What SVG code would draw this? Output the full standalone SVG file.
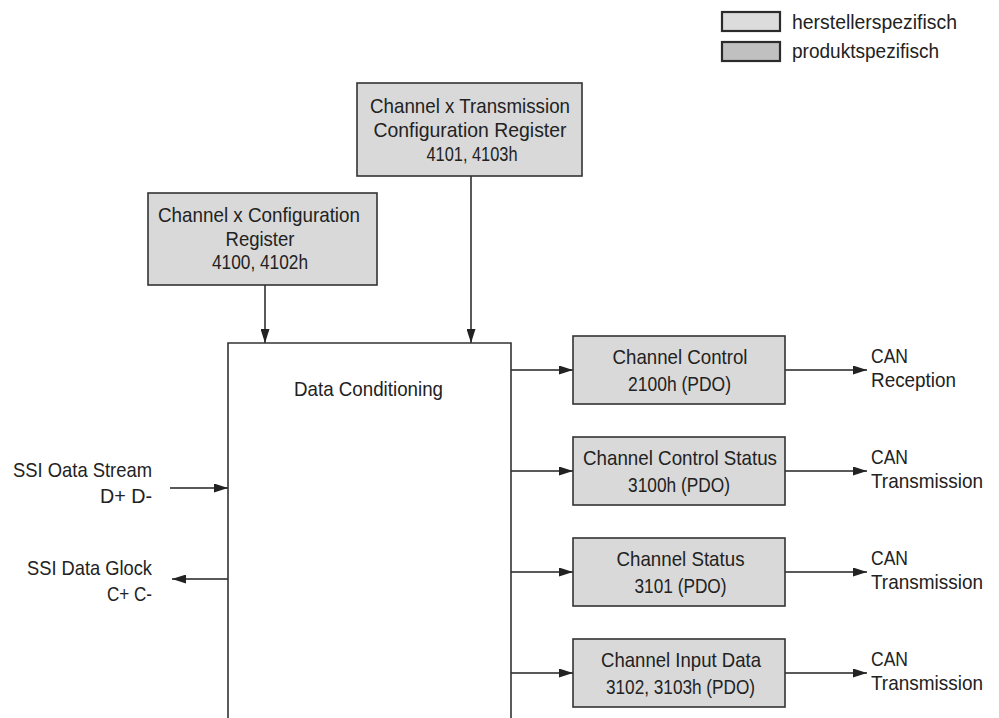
<svg xmlns="http://www.w3.org/2000/svg" width="999" height="718" viewBox="0 0 999 718">
<defs>
<marker id="ah" viewBox="0 0 14 9" refX="14" refY="4.5" markerWidth="14" markerHeight="9" markerUnits="userSpaceOnUse" orient="auto">
<path d="M0,0 L14,4.5 L0,9 Z" fill="#222"/>
</marker>
<style>
text{font-family:"Liberation Sans",Arial,sans-serif;font-size:21px;fill:#222}
.c{text-anchor:middle}
.r{text-anchor:end}
.box{fill:#d9d9d9;stroke:#333;stroke-width:1.6}
.main{fill:none;stroke:#333;stroke-width:1.6}
.ln{fill:none;stroke:#222;stroke-width:1.5;marker-end:url(#ah)}
.lg1{fill:#dcdcdc;stroke:#2b2b2b;stroke-width:2.2}
.lg2{fill:#c0c0c0;stroke:#2b2b2b;stroke-width:2.2}
</style>
</defs>
<rect width="999" height="718" fill="#fff"/>

<g id="legend">
<rect class="lg1" x="722" y="12" width="58" height="19"/>
<text x="792" y="29" textLength="165" lengthAdjust="spacingAndGlyphs">herstellerspezifisch</text>
<rect class="lg2" x="722" y="42" width="58" height="19"/>
<text x="792" y="58" textLength="147" lengthAdjust="spacingAndGlyphs">produktspezifisch</text>
</g>

<g id="connectors">
<line class="ln" x1="471" y1="176" x2="471" y2="343"/>
<line class="ln" x1="265" y1="285" x2="265" y2="343"/>
<line class="ln" x1="170" y1="488" x2="228" y2="488"/>
<line class="ln" x1="228" y1="579" x2="172" y2="579"/>
<line class="ln" x1="511" y1="370" x2="573" y2="370"/>
<line class="ln" x1="785" y1="370" x2="867" y2="370"/>
<line class="ln" x1="511" y1="471" x2="573" y2="471"/>
<line class="ln" x1="785" y1="471" x2="867" y2="471"/>
<line class="ln" x1="511" y1="572" x2="573" y2="572"/>
<line class="ln" x1="785" y1="572" x2="867" y2="572"/>
<line class="ln" x1="511" y1="673" x2="573" y2="673"/>
<line class="ln" x1="785" y1="673" x2="867" y2="673"/>
</g>

<g id="tx-config">
<rect class="box" x="357" y="83" width="225" height="93"/>
<text class="c" x="470" y="113" textLength="200" lengthAdjust="spacingAndGlyphs">Channel x Transmission</text>
<text class="c" x="470" y="137" textLength="193" lengthAdjust="spacingAndGlyphs">Configuration Register</text>
<text class="c" x="472" y="161" textLength="91" lengthAdjust="spacingAndGlyphs">4101, 4103h</text>
</g>

<g id="ch-config">
<rect class="box" x="148" y="193" width="229" height="92"/>
<text class="c" x="259" y="222" textLength="202" lengthAdjust="spacingAndGlyphs">Channel x Configuration</text>
<text class="c" x="260" y="246" textLength="69" lengthAdjust="spacingAndGlyphs">Register</text>
<text class="c" x="260" y="269" textLength="96" lengthAdjust="spacingAndGlyphs">4100, 4102h</text>
</g>

<g id="data-conditioning">
<path class="main" d="M228,720 V343 H511 V720"/>
<text class="c" x="368.5" y="396" textLength="149" lengthAdjust="spacingAndGlyphs">Data Conditioning</text>
</g>

<g id="ssi-data">
<text class="r" x="152" y="477" textLength="139" lengthAdjust="spacingAndGlyphs">SSI Oata Stream</text>
<text class="r" x="152" y="503" textLength="52" lengthAdjust="spacingAndGlyphs">D+ D-</text>
</g>
<g id="ssi-clock">
<text class="r" x="152" y="575" textLength="125" lengthAdjust="spacingAndGlyphs">SSI Data Glock</text>
<text class="r" x="152" y="601" textLength="45" lengthAdjust="spacingAndGlyphs">C+ C-</text>
</g>

<g id="ch-control">
<rect class="box" x="573" y="336" width="212" height="68"/>
<text class="c" x="680" y="364" textLength="135" lengthAdjust="spacingAndGlyphs">Channel Control</text>
<text class="c" x="679.5" y="391" textLength="103" lengthAdjust="spacingAndGlyphs">2100h (PDO)</text>
</g>
<g id="can-rx">
<text x="871" y="363" textLength="37" lengthAdjust="spacingAndGlyphs">CAN</text>
<text x="871" y="387" textLength="85" lengthAdjust="spacingAndGlyphs">Reception</text>
</g>

<g id="ch-control-status">
<rect class="box" x="573" y="437" width="212" height="68"/>
<text class="c" x="680" y="465" textLength="194" lengthAdjust="spacingAndGlyphs">Channel Control Status</text>
<text class="c" x="679" y="492" textLength="102" lengthAdjust="spacingAndGlyphs">3100h (PDO)</text>
</g>
<g id="can-tx1">
<text x="871" y="464" textLength="37" lengthAdjust="spacingAndGlyphs">CAN</text>
<text x="871" y="488" textLength="112" lengthAdjust="spacingAndGlyphs">Transmission</text>
</g>

<g id="ch-status">
<rect class="box" x="573" y="538" width="212" height="68"/>
<text class="c" x="680.5" y="566" textLength="128" lengthAdjust="spacingAndGlyphs">Channel Status</text>
<text class="c" x="680.5" y="593" textLength="92" lengthAdjust="spacingAndGlyphs">3101 (PDO)</text>
</g>
<g id="can-tx2">
<text x="871" y="565" textLength="37" lengthAdjust="spacingAndGlyphs">CAN</text>
<text x="871" y="589" textLength="112" lengthAdjust="spacingAndGlyphs">Transmission</text>
</g>

<g id="ch-input">
<rect class="box" x="573" y="639" width="212" height="68"/>
<text class="c" x="681" y="667" textLength="160" lengthAdjust="spacingAndGlyphs">Channel Input Data</text>
<text class="c" x="680.5" y="694" textLength="149" lengthAdjust="spacingAndGlyphs">3102, 3103h (PDO)</text>
</g>
<g id="can-tx3">
<text x="871" y="666" textLength="37" lengthAdjust="spacingAndGlyphs">CAN</text>
<text x="871" y="690" textLength="112" lengthAdjust="spacingAndGlyphs">Transmission</text>
</g>
</svg>
